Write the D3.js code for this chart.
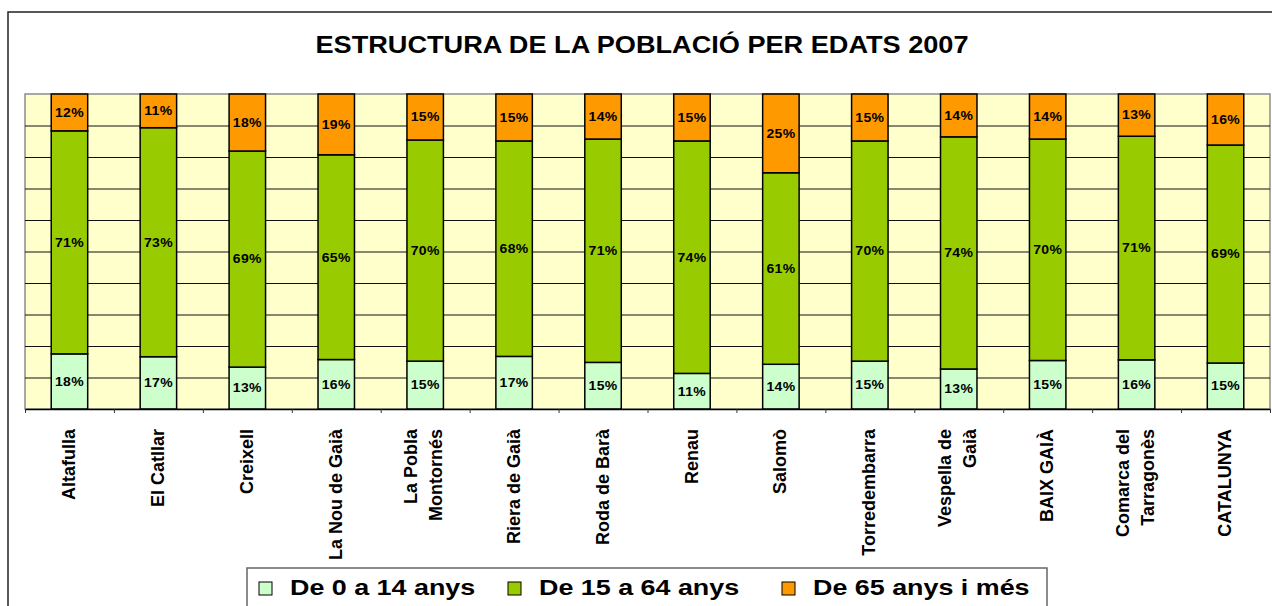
<!DOCTYPE html>
<html>
<head>
<meta charset="utf-8">
<script src="https://cdn.jsdelivr.net/npm/d3@7"></script>
<style>
  body { margin: 0; background: #fff; }
  text { font-family: "Liberation Sans", Arial, sans-serif; font-weight: bold; fill: #000; }
</style>
</head>
<body>
<script>
// age structure per municipality, 2007 (percent of population)
var categories = ["Altafulla", "El Catllar", "Creixell", "La Nou de Gaià", "La Pobla\nMontornés",
  "Riera de Gaià", "Roda de Barà", "Renau", "Salomò", "Torredembarra", "Vespella de\nGaià",
  "BAIX GAIÀ", "Comarca del\nTarragonès", "CATALUNYA"];
var young = [17.5, 16.6, 13.3, 15.7, 15.2, 16.7, 14.8, 11.3, 14.2, 15.2, 12.7, 15.4, 15.6, 14.6];
var adult = [70.8, 72.7, 68.6, 65.0, 70.2, 68.4, 70.9, 73.8, 60.8, 69.9, 73.7, 70.3, 71.0, 69.2];
var old = [11.7, 10.7, 18.1, 19.3, 14.6, 14.9, 14.3, 14.9, 25.0, 14.9, 13.6, 14.3, 13.4, 16.2];
var seriesNames = ["De 0 a 14 anys", "De 15 a 64 anys", "De 65 anys i més"];
var colors = ["#ccffcc", "#99cc00", "#ff9900"];
var gridTicks = [10, 20, 30, 40, 50, 60, 70, 80, 90];
var title = "ESTRUCTURA DE LA POBLACIÓ PER EDATS 2007";

// dimensions
var width = 1272;
var height = 606;
var plot = {left: 25, right: 1270, top: 94, bottom: 409};

var svg = d3.select("body")
  .append("svg")
  .attr("width", width)
  .attr("height", height);

// chart frame
svg.append("rect")
  .attr("x", 8)
  .attr("y", 12)
  .attr("width", width)
  .attr("height", height)
  .attr("fill", "#fff")
  .attr("stroke", "#222")
  .attr("stroke-width", 1.5);

// title (the original is drawn a bit wide, so stretch it)
svg.append("text")
  .attr("transform", "translate(" + [642, 53] + ") scale(1.18,1)")
  .attr("text-anchor", "middle")
  .style("font-size", "23px")
  .text(title);

// scales
var x = d3.scaleBand()
  .domain(categories)
  .range([plot.left, plot.right])
  .paddingInner(0.59)
  .paddingOuter(0.295);

var xEdges = d3.scaleLinear()
  .domain([0, categories.length])
  .range([plot.left, plot.right]);

var y = d3.scaleLinear()
  .domain([0, 100])
  .range([plot.bottom, plot.top]);

// plot background
svg.append("rect")
  .attr("x", plot.left)
  .attr("y", plot.top)
  .attr("width", plot.right - plot.left)
  .attr("height", plot.bottom - plot.top)
  .attr("fill", "#ffffcc")
  .attr("stroke", "#8c8c8c")
  .attr("stroke-width", 1.5);

// gridlines
var grid = svg.append("g")
  .attr("transform", "translate(" + [plot.left, 0] + ")")
  .call(d3.axisLeft(y).tickValues(gridTicks).tickSize(-(plot.right - plot.left)).tickFormat(""));
grid.select(".domain").remove();
grid.selectAll("line").attr("stroke", "#111");

// stack the data
var table = categories.map(function(c, i) {
  return {cat: c, young: young[i], adult: adult[i], old: old[i]};
});
var stacked = d3.stack().keys(["young", "adult", "old"])(table);

var layers = svg.selectAll(".layer")
  .data(stacked)
  .enter()
  .append("g")
  .attr("class", "layer")
  .attr("fill", function(d, i) { return colors[i]; });

layers.selectAll("rect")
  .data(function(d) { return d; })
  .enter()
  .append("rect")
  .attr("x", function(d) { return x(d.data.cat); })
  .attr("y", function(d) { return y(d[1]); })
  .attr("width", x.bandwidth())
  .attr("height", function(d) { return y(d[0]) - y(d[1]); })
  .attr("stroke", "#000")
  .attr("stroke-width", 1.5);

// value labels
layers.selectAll("text")
  .data(function(d) { return d; })
  .enter()
  .append("text")
  .attr("transform", function(d) {
    return "translate(" + [x(d.data.cat) + x.bandwidth() / 2, y((d[0] + d[1]) / 2)] + ") scale(1.12,1)";
  })
  .attr("dy", "0.35em")
  .attr("text-anchor", "middle")
  .style("font-size", "12.5px")
  .style("letter-spacing", "0.3px")
  .text(function(d) { return Math.round(d[1] - d[0]) + "%"; });

// x axis with ticks between categories
var xAxis = svg.append("g")
  .attr("transform", "translate(" + [0, plot.bottom] + ")")
  .call(d3.axisBottom(xEdges).tickValues(d3.range(categories.length + 1)).tickSize(4).tickSizeOuter(0).tickFormat(""));
xAxis.select(".domain").attr("stroke", "#000").attr("stroke-width", 1.5);
xAxis.selectAll("line").attr("stroke", "#333");

// category labels, rotated
var catLabels = svg.selectAll(".cat")
  .data(categories)
  .enter()
  .append("g")
  .attr("class", "cat");

catLabels.each(function(d) {
  var lines = d.split("\n");
  var cx = x(d) + x.bandwidth() / 2;
  var g = d3.select(this);
  lines.forEach(function(line, j) {
    var off = lines.length > 1 ? (j - 0.5) * 25 - 2 : -1;
    g.append("text")
      .attr("transform", "translate(" + [cx + off, 429] + ") scale(1.04,1) rotate(-90)")
      .attr("dy", "0.35em")
      .attr("text-anchor", "end")
      .style("font-size", "18px")
      .text(line);
  });
});

// legend
var legendX = [259, 508, 782];
svg.append("rect")
  .attr("x", 247)
  .attr("y", 568)
  .attr("width", 800)
  .attr("height", 60)
  .attr("fill", "#fff")
  .attr("stroke", "#666")
  .attr("stroke-width", 1.5);

var legend = svg.selectAll(".legend")
  .data(seriesNames)
  .enter()
  .append("g")
  .attr("class", "legend")
  .attr("transform", function(d, i) { return "translate(" + [legendX[i], 0] + ")"; });

legend.append("rect")
  .attr("x", 0)
  .attr("y", 582)
  .attr("width", 13)
  .attr("height", 13)
  .attr("fill", function(d, i) { return colors[i]; })
  .attr("stroke", "#000")
  .attr("stroke-width", 1);

legend.append("text")
  .attr("transform", "translate(31,595) scale(1.25,1)")
  .style("font-size", "21.5px")
  .text(function(d) { return d; });
</script>
</body>
</html>
